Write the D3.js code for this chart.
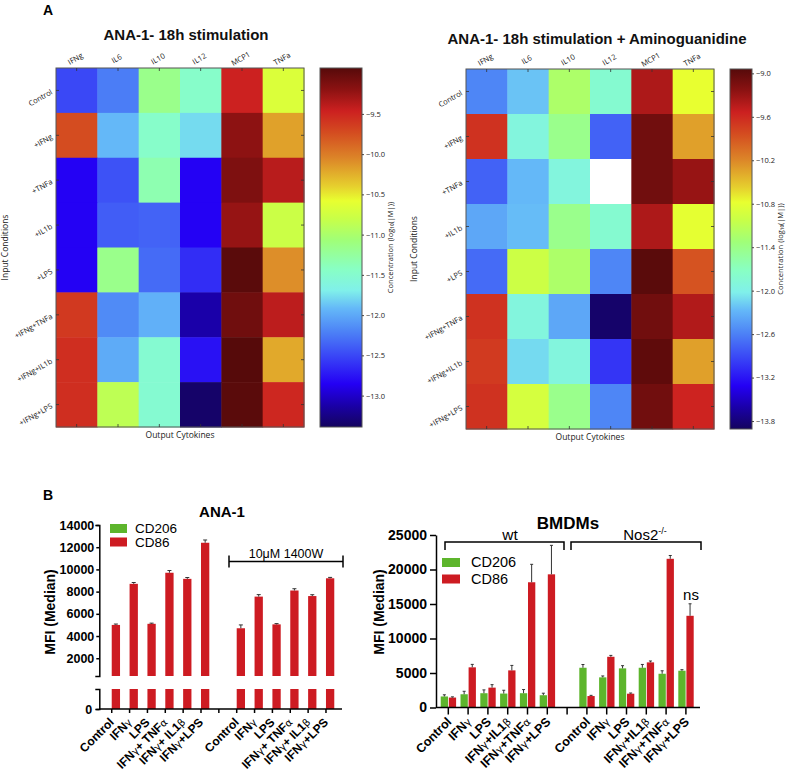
<!DOCTYPE html>
<html><head><meta charset="utf-8">
<script src="https://cdn.jsdelivr.net/npm/d3@7"></script>
<style>body{margin:0;background:#fff}</style>
</head><body>
<svg id="c" width="787" height="776" xmlns="http://www.w3.org/2000/svg"></svg>
<script>
// ---------------- DATA ----------------
const cytokines = ["IFNg","IL6","IL10","IL12","MCP1","TNFa"];
const conditions = ["Control","+IFNg","+TNFa","+IL1b","+LPS","+IFNg+TNFa","+IFNg+IL1b","+IFNg+LPS"];
// log10(|M|) concentrations, rows = conditions, columns = cytokines
const heatPlain = [
  [-12.50,-12.23,-11.16,-11.47,-9.47,-10.67],
  [-9.73,-11.92,-11.47,-11.78,-9.20,-10.18],
  [-12.85,-12.45,-11.34,-12.85,-9.13,-9.38],
  [-12.85,-12.39,-12.36,-12.85,-9.24,-10.78],
  [-12.85,-11.16,-12.32,-12.63,-8.95,-10.09],
  [-9.62,-12.16,-11.96,-13.12,-9.06,-9.40],
  [-9.55,-11.99,-11.52,-12.77,-8.93,-10.22],
  [-9.55,-10.87,-11.52,-13.35,-8.95,-9.51]
];
const heatAmino = [
  [-12.57,-12.22,-11.23,-11.82,-9.39,-10.78],
  [-9.66,-11.92,-11.43,-12.77,-9.09,-10.33],
  [-12.77,-12.27,-11.92,null,-9.09,-9.29],
  [-12.37,-12.25,-11.43,-11.82,-9.39,-10.80],
  [-12.72,-11.00,-11.23,-12.57,-8.96,-9.88],
  [-9.66,-11.92,-12.37,-13.86,-9.09,-9.41],
  [-9.71,-12.12,-11.92,-13.02,-8.99,-10.33],
  [-9.66,-10.93,-11.43,-12.57,-9.09,-9.56]
];
const rangePlain = [-13.39, -8.93];
const rangeAmino = [-13.91, -8.94];
const cbTicksPlain = [-9.5,-10.0,-10.5,-11.0,-11.5,-12.0,-12.5,-13.0];
const cbTicksAmino = [-9.0,-9.6,-10.2,-10.8,-11.4,-12.0,-12.6,-13.2,-13.8];

const anaCats = ["Control","IFNγ","LPS","IFNγ+ TNFα","IFNγ+ IL1β","IFNγ+LPS"];
const anaCD86 = [5000,8700,5100,9700,9150,12400];
const anaCD86Err = [80,120,60,200,120,250];
const ana1400WCD86 = [4700,7550,5050,8100,7600,9200];
const ana1400WCD86Err = [300,180,70,160,120,80];
const anaYTicks = [2000,4000,6000,8000,10000,12000,14000];
const anaBreak = 400;

const bmdmCats = ["Control","IFNγ","LPS","IFNγ+IL1β","IFNγ+TNFα","IFNγ+LPS"];
const wtCD206 = [1600,1920,2070,2020,2070,1780];
const wtCD206Err = [240,430,480,480,530,290];
const wtCD86 = [1440,5820,2880,5380,18150,19300];
const wtCD86Err = [100,430,430,720,2600,4200];
const nosCD206 = [5760,4370,5670,5760,4890,5330];
const nosCD206Err = [470,200,390,480,430,150];
const nosCD86 = [1660,7350,2000,6540,21550,13290];
const nosCD86Err = [100,200,100,200,480,1740];
const bmdmYTicks = [0,5000,10000,15000,20000,25000];

// ---------------- STYLE ----------------
const cmapStops = [
  [0.00,"#14045e"],[0.06,"#1a00a8"],[0.12,"#2400f4"],[0.20,"#3a48f6"],
  [0.27,"#4e86f6"],[0.33,"#64b8f8"],[0.38,"#80f0ea"],[0.44,"#88ffc4"],
  [0.52,"#a0ff78"],[0.58,"#c8ff48"],[0.63,"#e8ff30"],[0.67,"#e6d02e"],
  [0.75,"#dc8428"],[0.82,"#d44c20"],[0.88,"#cc2020"],[0.94,"#8c1212"],[1.00,"#560a0a"]
];
const ramp = d3.scaleLinear().domain(cmapStops.map(d=>d[0])).range(cmapStops.map(d=>d[1]))
  .interpolate(d3.interpolateRgb).clamp(true);
const GREEN = "#5db52c", RED = "#cd1b22";
const HFONT = "'Open Sans', 'DejaVu Sans', sans-serif";
const BFONT = "'Liberation Sans', Arial, sans-serif";
const intFmt = d3.format("d");

const svg = d3.select("#c");
svg.append("rect").attr("width",787).attr("height",776).attr("fill","#fff");

// ---------------- HEATMAPS ----------------
function heatmap(cfg){
  const g = svg.append("g");
  const x = d3.scaleBand().domain(cytokines).range([cfg.x0,cfg.x1]);
  const y = d3.scaleBand().domain(conditions).range([cfg.y0,cfg.y1]);
  const norm = d3.scaleLinear().domain(cfg.range).range([0,1]);
  conditions.forEach((c,i)=>{
    cytokines.forEach((k,j)=>{
      const v = cfg.data[i][j];
      g.append("rect").attr("x",x(k)).attr("y",y(c))
        .attr("width",x.bandwidth()+0.5).attr("height",y.bandwidth()+0.5)
        .attr("fill", v==null ? "#fff" : ramp(norm(v)));
    });
  });
  g.append("rect").attr("x",cfg.x0).attr("y",cfg.y0).attr("width",cfg.x1-cfg.x0).attr("height",cfg.y1-cfg.y0)
    .attr("fill","none").attr("stroke","#555").attr("stroke-width",1);
  const tk = g.append("g").attr("stroke","#333").attr("stroke-width",0.8);
  cytokines.forEach(k=>{
    const cx = x(k)+x.bandwidth()/2;
    tk.append("line").attr("x1",cx).attr("x2",cx).attr("y1",cfg.y0).attr("y2",cfg.y0+3);
    tk.append("line").attr("x1",cx).attr("x2",cx).attr("y1",cfg.y1).attr("y2",cfg.y1-3);
  });
  conditions.forEach(c=>{
    const cy = y(c)+y.bandwidth()/2;
    tk.append("line").attr("y1",cy).attr("y2",cy).attr("x1",cfg.x0).attr("x2",cfg.x0+3);
    tk.append("line").attr("y1",cy).attr("y2",cy).attr("x1",cfg.x1).attr("x2",cfg.x1-3);
  });
  cytokines.forEach(k=>{
    const cx = x(k)+x.bandwidth()/2;
    g.append("text").attr("transform",`translate(${cx},${cfg.y0-7}) rotate(-30)`)
      .attr("text-anchor","middle").attr("font-family",HFONT).attr("font-size",7.5).attr("fill","#222").text(k);
  });
  conditions.forEach(c=>{
    const cy = y(c)+y.bandwidth()/2;
    g.append("text").attr("transform",`translate(${cfg.x0-3},${cy+3}) rotate(-30)`)
      .attr("text-anchor","end").attr("font-family",HFONT).attr("font-size",7.5).attr("fill","#222").text(c);
  });
  g.append("text").attr("x",(cfg.x0+cfg.x1)/2).attr("y",cfg.y1+11).attr("text-anchor","middle")
    .attr("font-family",HFONT).attr("font-size",8.5).attr("fill","#222").text("Output Cytokines");
  g.append("text").attr("transform",`translate(${cfg.ylabX},${(cfg.y0+cfg.y1)/2}) rotate(-90)`)
    .attr("text-anchor","middle").attr("font-family",HFONT).attr("font-size",8.5).attr("fill","#222").text("Input Conditions");
  g.append("text").attr("x",cfg.titleX).attr("y",cfg.titleY).attr("text-anchor","middle")
    .attr("font-family",BFONT).attr("font-weight","bold").attr("font-size",15).attr("fill","#111").text(cfg.title);
  const cb = d3.scaleLinear().domain(cfg.range).range([cfg.y1,cfg.y0]);
  const gid = "grad"+cfg.id;
  const grad = svg.append("defs").append("linearGradient").attr("id",gid)
    .attr("x1",0).attr("y1",1).attr("x2",0).attr("y2",0);
  cmapStops.forEach(s=>grad.append("stop").attr("offset",s[0]).attr("stop-color",s[1]));
  g.append("rect").attr("x",cfg.cbX).attr("y",cfg.y0).attr("width",cfg.cbW).attr("height",cfg.y1-cfg.y0)
    .attr("fill",`url(#${gid})`).attr("stroke","#555").attr("stroke-width",1);
  const ax = g.append("g").attr("transform",`translate(${cfg.cbX+cfg.cbW},0)`)
    .call(d3.axisRight(cb).tickValues(cfg.ticks).tickFormat(d3.format(".1f")).tickSize(2).tickPadding(2));
  ax.select(".domain").remove();
  ax.selectAll("line").attr("stroke","#444");
  ax.selectAll("text").attr("font-family",HFONT).attr("font-size",7.5).attr("fill","#222");
  g.append("text").attr("transform",`translate(${cfg.cbLabX},${(cfg.y0+cfg.y1)/2}) rotate(-90)`)
    .attr("text-anchor","middle").attr("font-family",HFONT).attr("font-size",7.5).attr("fill","#222")
    .text("Concentration (log₁₀(|M|))");
}
heatmap({id:1,data:heatPlain,range:rangePlain,ticks:cbTicksPlain,x0:56,x1:304,y0:68,y1:427,
  cbX:320,cbW:42,cbLabX:393,ylabX:8,title:"ANA-1- 18h stimulation",titleX:186,titleY:40});
heatmap({id:2,data:heatAmino,range:rangeAmino,ticks:cbTicksAmino,x0:466,x1:714,y0:69,y1:429,
  cbX:730,cbW:22,cbLabX:783,ylabX:417,title:"ANA-1- 18h stimulation + Aminoguanidine",titleX:597,titleY:44});

svg.append("text").attr("x",43).attr("y",15).attr("font-family",BFONT).attr("font-weight","bold").attr("font-size",14).text("A");
svg.append("text").attr("x",43).attr("y",500).attr("font-family",BFONT).attr("font-weight","bold").attr("font-size",14).text("B");

// ---------------- helpers ----------------
function greekText(sel, str){
  str.split(/([γαβ])/).filter(s=>s.length).forEach(p=>{
    const t = sel.append("tspan").text(p);
    if(/[γαβ]/.test(p)) t.attr("font-weight","normal").attr("font-family","'DejaVu Sans', sans-serif").attr("font-size","0.85em");
  });
}
function xLabels(g, xs, cats, offs, axisY, dx, dy, fs){
  offs.forEach(o=>{
    cats.forEach((c,i)=>{
      const cx = xs(o+i)+xs.bandwidth()/2;
      const t = g.append("text").attr("transform",`translate(${cx+dx},${axisY+dy}) rotate(-45)`)
        .attr("text-anchor","end").attr("font-family",BFONT).attr("font-weight","bold").attr("font-size",fs);
      greekText(t,c);
    });
  });
}
function errBar(g, cx, yTop, yErr, w){
  g.append("line").attr("x1",cx).attr("x2",cx).attr("y1",yTop).attr("y2",yErr).attr("stroke","#333").attr("stroke-width",1);
  g.append("line").attr("x1",cx-w/2).attr("x2",cx+w/2).attr("y1",yErr).attr("y2",yErr).attr("stroke","#333").attr("stroke-width",1);
}

// ---------------- ANA-1 bar chart ----------------
(function(){
  const g = svg.append("g");
  const slots = d3.range(13);
  const x = d3.scaleBand().domain(slots).range([102.8,334.9]);
  const yHi = d3.scaleLinear().domain([anaBreak,14000]).range([676,525]);
  const yLo = d3.scaleLinear().domain([0,anaBreak]).range([709,689]);
  const bw = 8.3;
  const groups = [[0,anaCD86,anaCD86Err],[7,ana1400WCD86,ana1400WCD86Err]];
  groups.forEach(([o,vals,errs])=>{
    vals.forEach((v,i)=>{
      const cx = x(o+i)+x.bandwidth()/2;
      g.append("rect").attr("x",cx).attr("y",yHi(v)).attr("width",bw).attr("height",yHi(anaBreak)-yHi(v)).attr("fill",RED);
      g.append("rect").attr("x",cx).attr("y",yLo(anaBreak)).attr("width",bw).attr("height",yLo(0)-yLo(anaBreak)).attr("fill",RED);
      errBar(g, cx+bw/2, yHi(v), yHi(v+errs[i]), 4);
    });
  });
  const axHi = g.append("g").attr("transform","translate(99.3,0)")
    .call(d3.axisLeft(yHi).tickValues(anaYTicks).tickFormat(intFmt).tickSize(3).tickSizeOuter(4).tickPadding(2));
  const axLo = g.append("g").attr("transform","translate(99.3,0)")
    .call(d3.axisLeft(yLo).tickValues([0]).tickFormat(intFmt).tickSize(3).tickSizeOuter(4).tickPadding(4));
  [axHi,axLo].forEach(a=>{
    a.selectAll("path,line").attr("stroke","#000").attr("stroke-width",1.5);
    a.selectAll("text").attr("font-family",BFONT).attr("font-weight","bold").attr("font-size",12.5).attr("fill","#000");
  });
  const axX = g.append("g").attr("transform","translate(0,709)")
    .call(d3.axisBottom(x).tickSize(4).tickFormat(""));
  axX.select(".domain").remove();
  axX.selectAll(".tick").attr("transform",d=>`translate(${x(d)+x.bandwidth()/2},0)`);
  axX.selectAll("line").attr("stroke","#000").attr("stroke-width",1.5);
  g.append("line").attr("x1",99.3).attr("x2",342).attr("y1",709).attr("y2",709).attr("stroke","#000").attr("stroke-width",1.5);
  xLabels(g, x, anaCats, [0,7], 709, 3, 14, 12);
  g.append("text").attr("transform","translate(55,612) rotate(-90)").attr("text-anchor","middle")
    .attr("font-family",BFONT).attr("font-weight","bold").attr("font-size",14).text("MFI (Median)");
  g.append("text").attr("x",222).attr("y",517).attr("text-anchor","middle")
    .attr("font-family",BFONT).attr("font-weight","bold").attr("font-size",15).text("ANA-1");
  g.append("rect").attr("x",110).attr("y",524).attr("width",17).attr("height",9).attr("fill",GREEN);
  g.append("rect").attr("x",110).attr("y",537.5).attr("width",17).attr("height",9).attr("fill",RED);
  g.append("text").attr("x",135).attr("y",533).attr("font-family",BFONT).attr("font-size",13.5).text("CD206");
  g.append("text").attr("x",135).attr("y",546.5).attr("font-family",BFONT).attr("font-size",13.5).text("CD86");
  const bx0 = 229, bx1 = 343, by = 561.5;
  const br = g.append("g").attr("stroke","#000").attr("stroke-width",1.5);
  br.append("line").attr("x1",bx0).attr("x2",bx1).attr("y1",by).attr("y2",by);
  br.append("line").attr("x1",bx0).attr("x2",bx0).attr("y1",by-6).attr("y2",by+6);
  br.append("line").attr("x1",bx1).attr("x2",bx1).attr("y1",by-6).attr("y2",by+6);
  g.append("text").attr("x",286).attr("y",557.5).attr("text-anchor","middle").attr("font-family",BFONT).attr("font-size",12.5).text("10μM 1400W");
})();

// ---------------- BMDM bar chart ----------------
(function(){
  const g = svg.append("g");
  const slots = d3.range(13);
  const x = d3.scaleBand().domain(slots).range([438.4,695.8]);
  const y = d3.scaleLinear().domain([0,25000]).range([707.5,535]);
  const bw = 7.3;
  const groups = [[0,wtCD206,wtCD206Err,wtCD86,wtCD86Err],[7,nosCD206,nosCD206Err,nosCD86,nosCD86Err]];
  groups.forEach(([o,gv,ge,rv,re])=>{
    gv.forEach((v,i)=>{
      const cx = x(o+i)+x.bandwidth()/2;
      g.append("rect").attr("x",cx-bw-0.3).attr("y",y(v)).attr("width",bw).attr("height",y(0)-y(v)).attr("fill",GREEN);
      errBar(g, cx-bw/2-0.3, y(v), y(v+ge[i]), 3);
      const r = rv[i];
      g.append("rect").attr("x",cx+0.5).attr("y",y(r)).attr("width",bw).attr("height",y(0)-y(r)).attr("fill",RED);
      errBar(g, cx+bw/2+0.5, y(r), y(r+re[i]), 3);
    });
  });
  const ay = g.append("g").attr("transform","translate(436,0)")
    .call(d3.axisLeft(y).tickValues(bmdmYTicks).tickFormat(intFmt).tickSize(6).tickSizeOuter(0).tickPadding(3));
  ay.selectAll("path,line").attr("stroke","#000").attr("stroke-width",1.5);
  ay.selectAll("text").attr("font-family",BFONT).attr("font-weight","bold").attr("font-size",14).attr("fill","#000");
  const axX = g.append("g").attr("transform","translate(0,707.5)")
    .call(d3.axisBottom(x).tickSize(7).tickFormat(""));
  axX.select(".domain").remove();
  axX.selectAll(".tick").attr("transform",d=>`translate(${x(d)+x.bandwidth()/2},0)`);
  axX.selectAll("line").attr("stroke","#000").attr("stroke-width",1.5);
  g.append("line").attr("x1",436).attr("x2",700).attr("y1",707.5).attr("y2",707.5).attr("stroke","#000").attr("stroke-width",1.5);
  xLabels(g, x, bmdmCats, [0,7], 707.5, 4, 15, 12.5);
  g.append("text").attr("transform","translate(384,612) rotate(-90)").attr("text-anchor","middle")
    .attr("font-family",BFONT).attr("font-weight","bold").attr("font-size",14).text("MFI (Median)");
  g.append("text").attr("x",568).attr("y",529).attr("text-anchor","middle")
    .attr("font-family",BFONT).attr("font-weight","bold").attr("font-size",17).text("BMDMs");
  g.append("rect").attr("x",442).attr("y",558).attr("width",18).attr("height",9).attr("fill",GREEN);
  g.append("rect").attr("x",442).attr("y",574.5).attr("width",18).attr("height",9).attr("fill",RED);
  g.append("text").attr("x",471).attr("y",567).attr("font-family",BFONT).attr("font-size",14.5).text("CD206");
  g.append("text").attr("x",471).attr("y",583.5).attr("font-family",BFONT).attr("font-size",14.5).text("CD86");
  const br = g.append("g").attr("stroke","#000").attr("stroke-width",1.5).attr("fill","none");
  [[445,564],[571,701]].forEach(([a,b])=>{
    br.append("path").attr("d",`M${a},550 V542 H${b} V550`);
  });
  g.append("text").attr("x",510).attr("y",540).attr("text-anchor","middle").attr("font-family",BFONT).attr("font-size",15.5).text("wt");
  const nt = g.append("text").attr("x",645).attr("y",540).attr("text-anchor","middle").attr("font-family",BFONT).attr("font-size",15);
  nt.append("tspan").text("Nos2");
  nt.append("tspan").attr("dy",-6).attr("font-size",9).text("-/-");
  g.append("text").attr("x",691).attr("y",600).attr("text-anchor","middle").attr("font-family",BFONT).attr("font-size",15).text("ns");
})();
</script>
</body></html>
